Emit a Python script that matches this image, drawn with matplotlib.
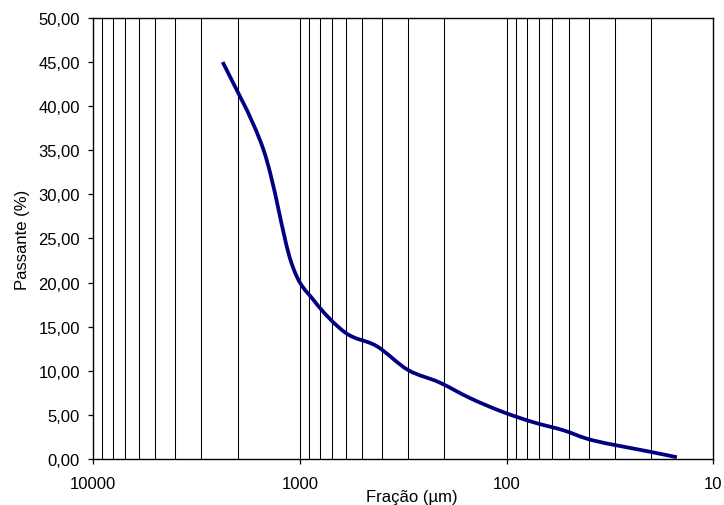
import numpy as np
import matplotlib
matplotlib.use("Agg")
import matplotlib.pyplot as plt
from matplotlib.path import Path
from matplotlib.patches import PathPatch
from matplotlib.ticker import FixedLocator, FuncFormatter, NullLocator

plt.rcParams['font.family'] = ['Liberation Sans', 'DejaVu Sans']

# Fração (µm) e Passante (%)
fracao = [2360, 1500, 1100, 850, 600, 425, 300, 212, 150, 106, 75, 53, 38, 20, 15]
passante = [45.0, 35.1, 22.3, 17.9, 14.3, 12.8, 10.1, 8.7, 6.9, 5.4, 4.2, 3.25, 2.1, 0.8, 0.2]

y_ticks = [0, 5, 10, 15, 20, 25, 30, 35, 40, 45, 50]
x_ticks = [10000, 1000, 100, 10]


def curva_suave(xs, ys):
    # linha suavizada estilo Excel (Bezier), calculada em log10(x)
    lx = np.log10(xs)
    ys = np.asarray(ys, dtype=float)
    n = len(lx)
    verts = [(xs[0], ys[0])]
    codes = [Path.MOVETO]
    for i in range(n - 1):
        a = max(i - 1, 0)
        b = min(i + 2, n - 1)
        c1x = lx[i] + (lx[i + 1] - lx[a]) / 6
        c1y = ys[i] + (ys[i + 1] - ys[a]) / 6
        c2x = lx[i + 1] - (lx[b] - lx[i]) / 6
        c2y = ys[i + 1] - (ys[b] - ys[i]) / 6
        verts += [(10 ** c1x, c1y), (10 ** c2x, c2y), (xs[i + 1], ys[i + 1])]
        codes += [Path.CURVE4] * 3
    return Path(verts, codes)


fig = plt.figure(figsize=(7.24, 5.06), dpi=100)
ax = fig.add_axes([0.1285, 0.0909, 0.8567, 0.8716])

ax.set_xscale('log')
ax.set_xlim(10000, 10)
ax.set_ylim(0, 50)

# linhas verticais de grade (2..9 x cada década)
grade = [m * 10 ** d for d in (1, 2, 3) for m in range(1, 10)]
for g in grade:
    if 10 < g < 10000:
        ax.axvline(g, color='black', lw=0.75, zorder=1)

ax.add_patch(PathPatch(curva_suave(fracao, passante), fill=False,
                       edgecolor='#000080', lw=2.7, zorder=3,
                       capstyle='butt', joinstyle='round'))

ax.xaxis.set_major_locator(FixedLocator(x_ticks))
ax.xaxis.set_minor_locator(NullLocator())
ax.xaxis.set_major_formatter(FuncFormatter(lambda v, p: f"{v:.0f}"))
ax.yaxis.set_major_locator(FixedLocator(y_ticks))
ax.yaxis.set_major_formatter(FuncFormatter(lambda v, p: f"{v:.2f}".replace('.', ',')))

ax.tick_params(axis='both', direction='out', length=3.5, width=0.9,
               labelsize=12, color='black')
ax.tick_params(axis='y', pad=6)
ax.tick_params(axis='x', pad=9)

for s in ax.spines.values():
    s.set_linewidth(1.0)
    s.set_color('black')

ax.set_xlabel('Fração (µm)', fontsize=12, labelpad=-2, x=0.514)
ax.set_ylabel('Passante (%)', fontsize=12, labelpad=6)

fig.savefig('out.png', dpi=100)
